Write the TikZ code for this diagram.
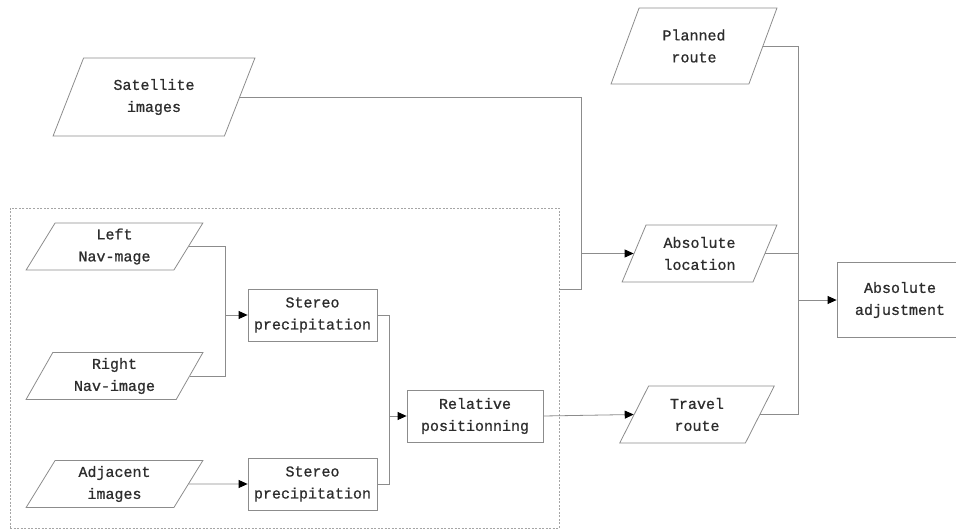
\documentclass[tikz,border=0pt]{standalone}
\usepackage{fontspec}
\setmonofont{Liberation Mono}[FakeBold=0.9]
\usepackage{tikz}
\definecolor{linegray}{RGB}{140,140,140}
\definecolor{dashgray}{RGB}{165,165,165}
\definecolor{textgray}{RGB}{45,45,45}
\usetikzlibrary{positioning,shapes.geometric,arrows.meta}

\begin{document}
\begin{tikzpicture}[x=1pt, y=-1pt,
	every node/.style={font=\ttfamily\fontsize{15}{22}\selectfont, text=textgray, align=center},
	data/.style={trapezium, trapezium left angle=64, trapezium right angle=116, trapezium stretches=true, draw=linegray, line width=0.8pt, inner sep=0pt},
	process/.style={rectangle, draw=linegray, line width=0.8pt, minimum width=129pt, minimum height=52pt, inner sep=0pt},
	group/.style={rectangle, draw=dashgray, dash pattern=on 2pt off 1.5pt, line width=0.7pt, minimum width=549pt, minimum height=320pt},
	link/.style={draw=linegray, line width=0.8pt},
	flow/.style={link, -{Triangle[length=9pt, width=8pt, color=black]}}]
	\useasboundingbox (0,0) rectangle (956,530);
	\node[group] (grp) at (284.5,368) {};
	\node[data, minimum width=202pt, minimum height=78pt] (sat) at (154,97) {Satellite\\images};
	\node[data, minimum width=166pt, minimum height=76pt] (plan) at (694,46) {Planned\\route};
	\node[data, minimum width=155pt, minimum height=57pt] (absloc) at (699.5,253.5) {Absolute\\location};
	\node[data, minimum width=156pt, minimum height=57pt] (travel) at (697,414.5) {Travel\\route};
	\node[process, minimum width=126pt, minimum height=75pt] (adj) at (900,300) {Absolute\\adjustment};
	\node[data, minimum width=177pt, minimum height=47pt] (lnav) at (114.5,246.5) {Left\\Nav-mage};
	\node[data, minimum width=177pt, minimum height=47pt] (rnav) at (114.5,376) {Right\\Nav-image};
	\node[data, minimum width=177pt, minimum height=47pt] (adjimg) at (114.5,484) {Adjacent\\images};
	\node[process] (st1) at (312.5,315) {Stereo\\precipitation};
	\node[process] (st2) at (312.5,484) {Stereo\\precipitation};
	\node[process, minimum width=136pt] (rel) at (475,416) {Relative\\positionning};
	% junctions
	\coordinate (jabs) at ([xshift=-52pt]absloc.west);
	\coordinate (grpout) at (559,289);
	\coordinate (jadj) at ([xshift=-38pt]adj.west);
	\coordinate (jst) at ([xshift=-22pt]st1.west);
	\coordinate (jrel) at ([xshift=-17pt]rel.west);
	\draw[link] (sat.east) -| (jabs) |- (grpout);
	\draw[flow] (jabs) -- (absloc.west);
	\draw[link] (plan.east) -| (jadj);
	\draw[link] (travel.east) -| (jadj);
	\draw[link] (absloc.east) -- (absloc.east -| jadj);
	\draw[flow] (jadj) -- (adj.west);
	\draw[link] (lnav.east) -| (jst);
	\draw[link] (rnav.east) -| (jst);
	\draw[flow] (jst) -- (st1.west);
	\draw[flow] (adjimg.east) -- (st2.west);
	\draw[link] (st1.east) -| (jrel);
	\draw[link] (st2.east) -| (jrel);
	\draw[flow] (jrel) -- (rel.west);
	\draw[flow] (rel.east) -- (travel.west);
\end{tikzpicture}
\end{document}
